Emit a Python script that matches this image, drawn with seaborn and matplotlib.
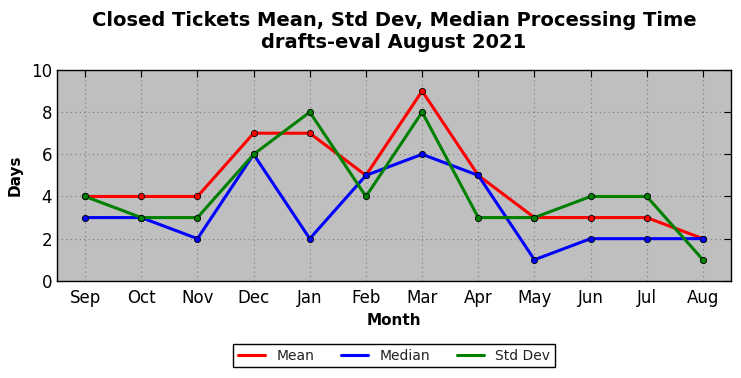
import matplotlib
matplotlib.use("Agg")
import matplotlib.pyplot as plt
import seaborn as sns
import pandas as pd

months = ["Sep", "Oct", "Nov", "Dec", "Jan", "Feb", "Mar", "Apr", "May", "Jun", "Jul", "Aug"]
mean_vals = [4, 4, 4, 7, 7, 5, 9, 5, 3, 3, 3, 2]
median_vals = [3, 3, 2, 6, 2, 5, 6, 5, 1, 2, 2, 2]
std_vals = [4, 3, 3, 6, 8, 4, 8, 3, 3, 4, 4, 1]
series_names = ["Mean", "Median", "Std Dev"]
colors = ["#ff0000", "#0000ff", "#008000"]

rows = []
for name, vals in zip(series_names, [mean_vals, median_vals, std_vals]):
    for i, (m, v) in enumerate(zip(months, vals)):
        rows.append({"idx": i, "Month": m, "Days": v, "Series": name})
df = pd.DataFrame(rows)

sns.set_style("white")
plt.rcParams['font.family'] = ['DejaVu Sans']
plt.rcParams['text.color'] = 'black'
plt.rcParams['axes.labelcolor'] = 'black'
plt.rcParams['xtick.color'] = 'black'
plt.rcParams['ytick.color'] = 'black'

fig = plt.figure(figsize=(7.41, 3.78), dpi=100)
ax = fig.add_axes([0.077, 0.257, 0.9095, 0.558])
ax.set_facecolor("#bfbfbf")

sns.lineplot(data=df, x="idx", y="Days", hue="Series", palette=colors,
             hue_order=series_names, marker="o", markersize=4.5,
             markeredgecolor="black", markeredgewidth=0.6, linewidth=2.2,
             ax=ax, legend=True)

ax.set_xlim(-0.5, 11.5)
ax.set_ylim(0, 10)
ax.set_xticks(range(len(months)))
ax.set_xticklabels(months)
ax.set_yticks([0, 2, 4, 6, 8, 10])
ax.tick_params(axis="both", labelsize=12, direction="in", length=5, width=0.8,
               top=True, right=True, colors="black", labelcolor="black")
ax.tick_params(axis="x", pad=6)
ax.grid(True, linestyle=(0, (1, 3)), color="#7a7a7a", linewidth=0.8)
for s in ax.spines.values():
    s.set_visible(True)
    s.set_color("black")
    s.set_linewidth(1.0)

ax.set_xlabel("Month", fontsize=11, fontweight="bold", labelpad=4, color="black")
ax.set_ylabel("Days", fontsize=11, fontweight="bold", labelpad=6, color="black")
ax.set_title("Closed Tickets Mean, Std Dev, Median Processing Time\ndrafts-eval August 2021",
             fontsize=14, fontweight="bold", pad=16, color="black")

handles, labels = ax.get_legend_handles_labels()
for h in handles:
    h.set_marker("")
leg = ax.legend(handles, labels, loc="upper center", bbox_to_anchor=(0.5, -0.265),
                ncol=3, fontsize=10, frameon=True, fancybox=False, edgecolor="black",
                framealpha=1, columnspacing=1.9, handlelength=2.0, borderpad=0.35)
leg.get_frame().set_linewidth(1.0)
for t in leg.get_texts():
    t.set_color("#222222")

fig.savefig("out.png", dpi=100)
